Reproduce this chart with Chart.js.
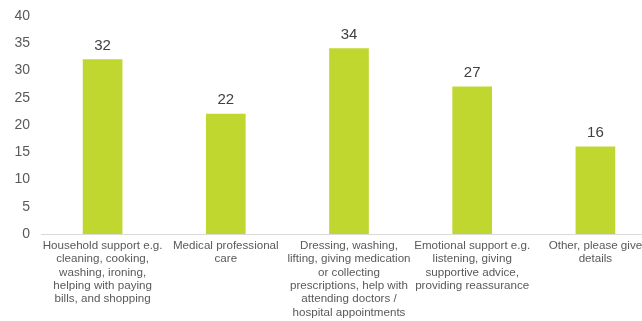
<!DOCTYPE html>
<html><head><meta charset="utf-8">
<script src="https://cdn.jsdelivr.net/npm/chart.js@4"></script>
<style>html,body{margin:0;padding:0;overflow:hidden;background:#fff}#wrap{width:657px;height:321px}</style>
</head><body><div id="wrap"><canvas id="c" width="657" height="321"></canvas></div>
<script>
const categories = [
  ["Household support e.g.", "cleaning, cooking,", "washing, ironing,", "helping with paying", "bills, and shopping"],
  ["Medical professional", "care"],
  ["Dressing, washing,", "lifting, giving medication", "or collecting", "prescriptions, help with", "attending doctors /", "hospital appointments"],
  ["Emotional support e.g.", "listening, giving", "supportive advice,", "providing reassurance"],
  ["Other, please give", "details"]
];
const values = [32, 22, 34, 27, 16];
const yTicks = [0, 5, 10, 15, 20, 25, 30, 35, 40];

const valueLabels = {
  id: 'valueLabels',
  afterDatasetsDraw(chart) {
    const ctx = chart.ctx;
    ctx.save();
    ctx.font = '15px "Liberation Sans", Arial, sans-serif';
    ctx.fillStyle = '#404040';
    ctx.textAlign = 'center';
    ctx.textBaseline = 'alphabetic';
    chart.getDatasetMeta(0).data.forEach((bar, i) => {
      ctx.fillText(String(values[i]), bar.x, bar.y - 10);
    });
    ctx.restore();
  }
};

new Chart(document.getElementById('c'), {
  type: 'bar',
  data: {
    labels: categories,
    datasets: [{ data: values, backgroundColor: '#C0D72F', borderWidth: 0, barThickness: 39 }]
  },
  options: {
    responsive: false,
    animation: false,
    devicePixelRatio: 1,
    layout: { padding: { top: 16, right: 0, left: 0, bottom: 0 } },
    plugins: { legend: { display: false }, tooltip: { enabled: false } },
    scales: {
      x: {
        grid: { display: false, drawTicks: false },
        border: { display: true, color: '#D9D9D9', width: 1 },
        ticks: { color: '#595959', font: { family: '"Liberation Sans", Arial, sans-serif', size: 11.6, lineHeight: 1.15 }, padding: 5, maxRotation: 0, autoSkip: false },
        afterFit(s) { s.height = 87; }
      },
      y: {
        min: 0, max: 40,
        afterBuildTicks(s) { s.ticks = yTicks.map(v => ({ value: v })); },
        grid: { display: false, drawTicks: false },
        border: { display: false },
        ticks: { color: '#595959', font: { family: '"Liberation Sans", Arial, sans-serif', size: 14 }, padding: 11 },
        afterFit(s) { s.width = 41; s.paddingTop = 0; s.paddingBottom = 0; }
      }
    }
  },
  plugins: [valueLabels]
});
</script></body></html>
